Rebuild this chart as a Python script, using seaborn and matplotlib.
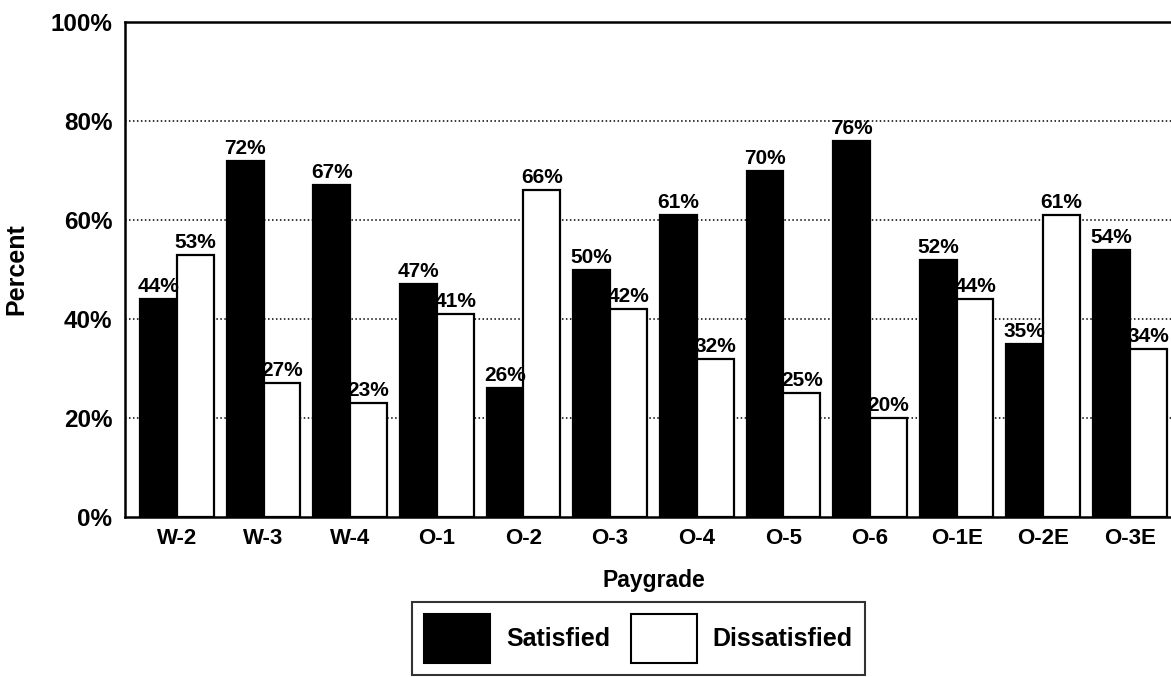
import matplotlib
matplotlib.use("Agg")
import matplotlib.pyplot as plt
from matplotlib.ticker import FuncFormatter
import seaborn as sns
import pandas as pd

paygrades = ["W-2", "W-3", "W-4", "O-1", "O-2", "O-3", "O-4", "O-5", "O-6", "O-1E", "O-2E", "O-3E"]
satisfied = [44, 72, 67, 47, 26, 50, 61, 70, 76, 52, 35, 54]
dissatisfied = [53, 27, 23, 41, 66, 42, 32, 25, 20, 44, 61, 34]
series_names = ["Satisfied", "Dissatisfied"]
y_ticks = [0, 20, 40, 60, 80, 100]

df = pd.DataFrame({
    "Paygrade": paygrades * 2,
    "Response": [series_names[0]] * len(paygrades) + [series_names[1]] * len(paygrades),
    "Percent": satisfied + dissatisfied,
})

sns.set_theme(style="white")
plt.rcParams["font.family"] = ["Liberation Sans", "DejaVu Sans"]
plt.rcParams["text.color"] = "black"
plt.rcParams["axes.labelcolor"] = "black"
plt.rcParams["xtick.color"] = "black"
plt.rcParams["ytick.color"] = "black"
narrow = ["Liberation Sans Narrow", "Liberation Sans", "DejaVu Sans"]

fig = plt.figure(figsize=(11.71, 6.77), dpi=100)
ax = fig.add_axes([0.1067, 0.2363, 0.9026, 0.7312])

sns.barplot(
    data=df, x="Paygrade", y="Percent", hue="Response",
    order=paygrades, hue_order=series_names,
    palette={"Satisfied": "black", "Dissatisfied": "white"},
    width=0.85, gap=0, edgecolor="black", linewidth=1.6,
    legend=False, ax=ax, zorder=3,
)

# value labels above each bar
for container in ax.containers:
    for bar in container:
        h = bar.get_height()
        ax.text(bar.get_x() + bar.get_width() / 2, h + 0.6, f"{h:.0f}%",
                ha="center", va="bottom", fontsize=15, fontweight="bold",
                family=narrow, color="black", zorder=4)

ax.set_ylim(0, 100)
ax.set_xlim(-0.6, 11.6)
ax.set_yticks(y_ticks)
ax.yaxis.set_major_formatter(FuncFormatter(lambda v, _: f"{v:.0f}%"))
ax.tick_params(axis="y", length=0, labelsize=17.5, pad=9)
ax.tick_params(axis="x", length=0, labelsize=16, pad=8)
for lab in ax.get_xticklabels() + ax.get_yticklabels():
    lab.set_fontweight("bold")

for y in y_ticks[1:-1]:
    ax.axhline(y, color="black", linestyle=(0, (1, 1.6)), linewidth=1.1, zorder=1)

for side in ["left", "bottom", "top", "right"]:
    ax.spines[side].set_visible(True)
    ax.spines[side].set_color("black")
    ax.spines[side].set_linewidth(1.8)

ax.set_xlabel("Paygrade", fontsize=16.5, fontweight="bold", labelpad=14)
ax.set_ylabel("Percent", fontsize=18, fontweight="bold", labelpad=16)

handles = [
    plt.Rectangle((0, 0), 1, 1, facecolor="black", edgecolor="black", linewidth=1.5),
    plt.Rectangle((0, 0), 1, 1, facecolor="white", edgecolor="black", linewidth=1.5),
]
leg = fig.legend(
    handles, series_names, loc="center", bbox_to_anchor=(0.5453, 0.0569),
    ncol=2, frameon=True, fancybox=False, edgecolor="black",
    prop={"weight": "bold", "size": 18}, handlelength=2.64, handleheight=2.6,
    handletextpad=0.64, columnspacing=0.8, borderpad=0.5, borderaxespad=0,
)
leg.get_frame().set_linewidth(1.5)

fig.savefig("out.png", dpi=100)
